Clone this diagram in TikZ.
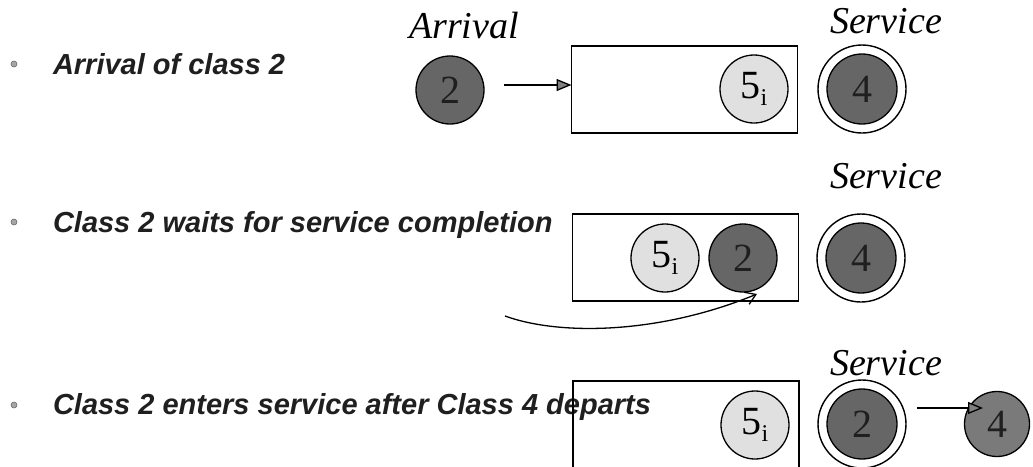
\documentclass[tikz,border=0pt]{standalone}
\usepackage{fontspec}
\setmainfont{Liberation Serif}
\newfontfamily\bulletfont{Liberation Sans}
\usetikzlibrary{arrows.meta}

% subscript index of a job label
\newcommand\jobidx[1]{\raisebox{-7pt}{\fontsize{24}{24}\selectfont #1}}

\begin{document}
\begin{tikzpicture}[x=1pt,y=-1pt,
  every node/.style={inner sep=0pt, outer sep=0pt},
  bullettext/.style={anchor=base west, text=black!88,
    font=\bulletfont\bfseries\itshape\fontsize{29}{34}\selectfont},
  bulletdot/.style={circle, draw=black!60, fill=black!35, line width=0.6pt, minimum size=6pt},
  queuebox/.style={draw, line width=1.3pt, minimum width=226pt, minimum height=87pt},
  job/.style={circle, draw, line width=1.3pt, minimum size=68pt,
    font=\fontsize{40}{40}\selectfont},
  lightjob/.style={job, fill=black!12},
  darkjob/.style={job, fill=black!60, text=black!88},
  served/.style={darkjob, minimum size=70pt},
  server/.style={circle, draw, line width=1.4pt, minimum size=88pt, fill=white},
  caption/.style={anchor=base, font=\itshape\fontsize{38}{40}\selectfont},
  flow/.style={line width=1.3pt,
    -{Triangle[length=15pt,width=12pt,fill=black!50]}},
  moveflow/.style={line width=1.3pt, -{Straight Barb[length=10pt,width=13pt]}},
]
\useasboundingbox (0,0) rectangle (1033,466);
\clip (0,0) rectangle (1033,466);

% ---- arrival of class 2 ----
\node[bulletdot] (b1) at (14,64) {};
\node[bullettext] (t1) at (53,74) {Arrival of class 2};
\node[caption] (arrl) at (464,38) {Arrival};
\node[darkjob] (a2) at (450,90) {2};
\node[queuebox] (q1) at (684.5,89.5) {};
\node[lightjob] (q1j5) at (754,89) {5\jobidx{i}};
\node[server] (s1) at (862,89) {};
\node[served] (s1j4) at (862,89) {4};
\node[caption] (sl1) at (886,33) {Service};
\coordinate (a2out) at (504,85);
\draw[flow] (a2out) -- (a2out -| q1.west);

% ---- class 2 waits ----
\node[bulletdot] (b2) at (14,222) {};
\node[bullettext] (t2) at (53,232) {Class 2 waits for service completion};
\node[caption] (sl2) at (886,188) {Service};
\node[queuebox] (q2) at (685.5,257.5) {};
\node[lightjob] (q2j5) at (665,258) {5\jobidx{i}};
\node[darkjob] (q2j2) at (743,258) {2};
\node[server] (s2) at (861,258) {};
\node[served] (s2j4) at (861,258) {4};
\coordinate (joinfrom) at (505,316);
\coordinate (jointo) at (757,294);
\draw[moveflow] (joinfrom) .. controls (560,336) and (660,334) .. (jointo);

% ---- class 2 enters service ----
\node[bulletdot] (b3) at (14,405) {};
\node[bullettext] (t3) at (53,414) {Class 2 enters service after Class 4 departs};
\node[caption] (sl3) at (886,375) {Service};
\node[queuebox] (q3) at (686,424.5) {};
\node[lightjob] (q3j5) at (755,425) {5\jobidx{i}};
\node[server] (s3) at (862,424) {};
\node[served] (s3j2) at (862,424) {2};
\node[darkjob, minimum size=65pt, fill=black!52] (d4) at (997,424) {4};
\coordinate (s3out) at (917,408);
\coordinate (d4in) at (983,408);
\draw[flow] (s3out) -- (d4in);
\end{tikzpicture}
\end{document}
